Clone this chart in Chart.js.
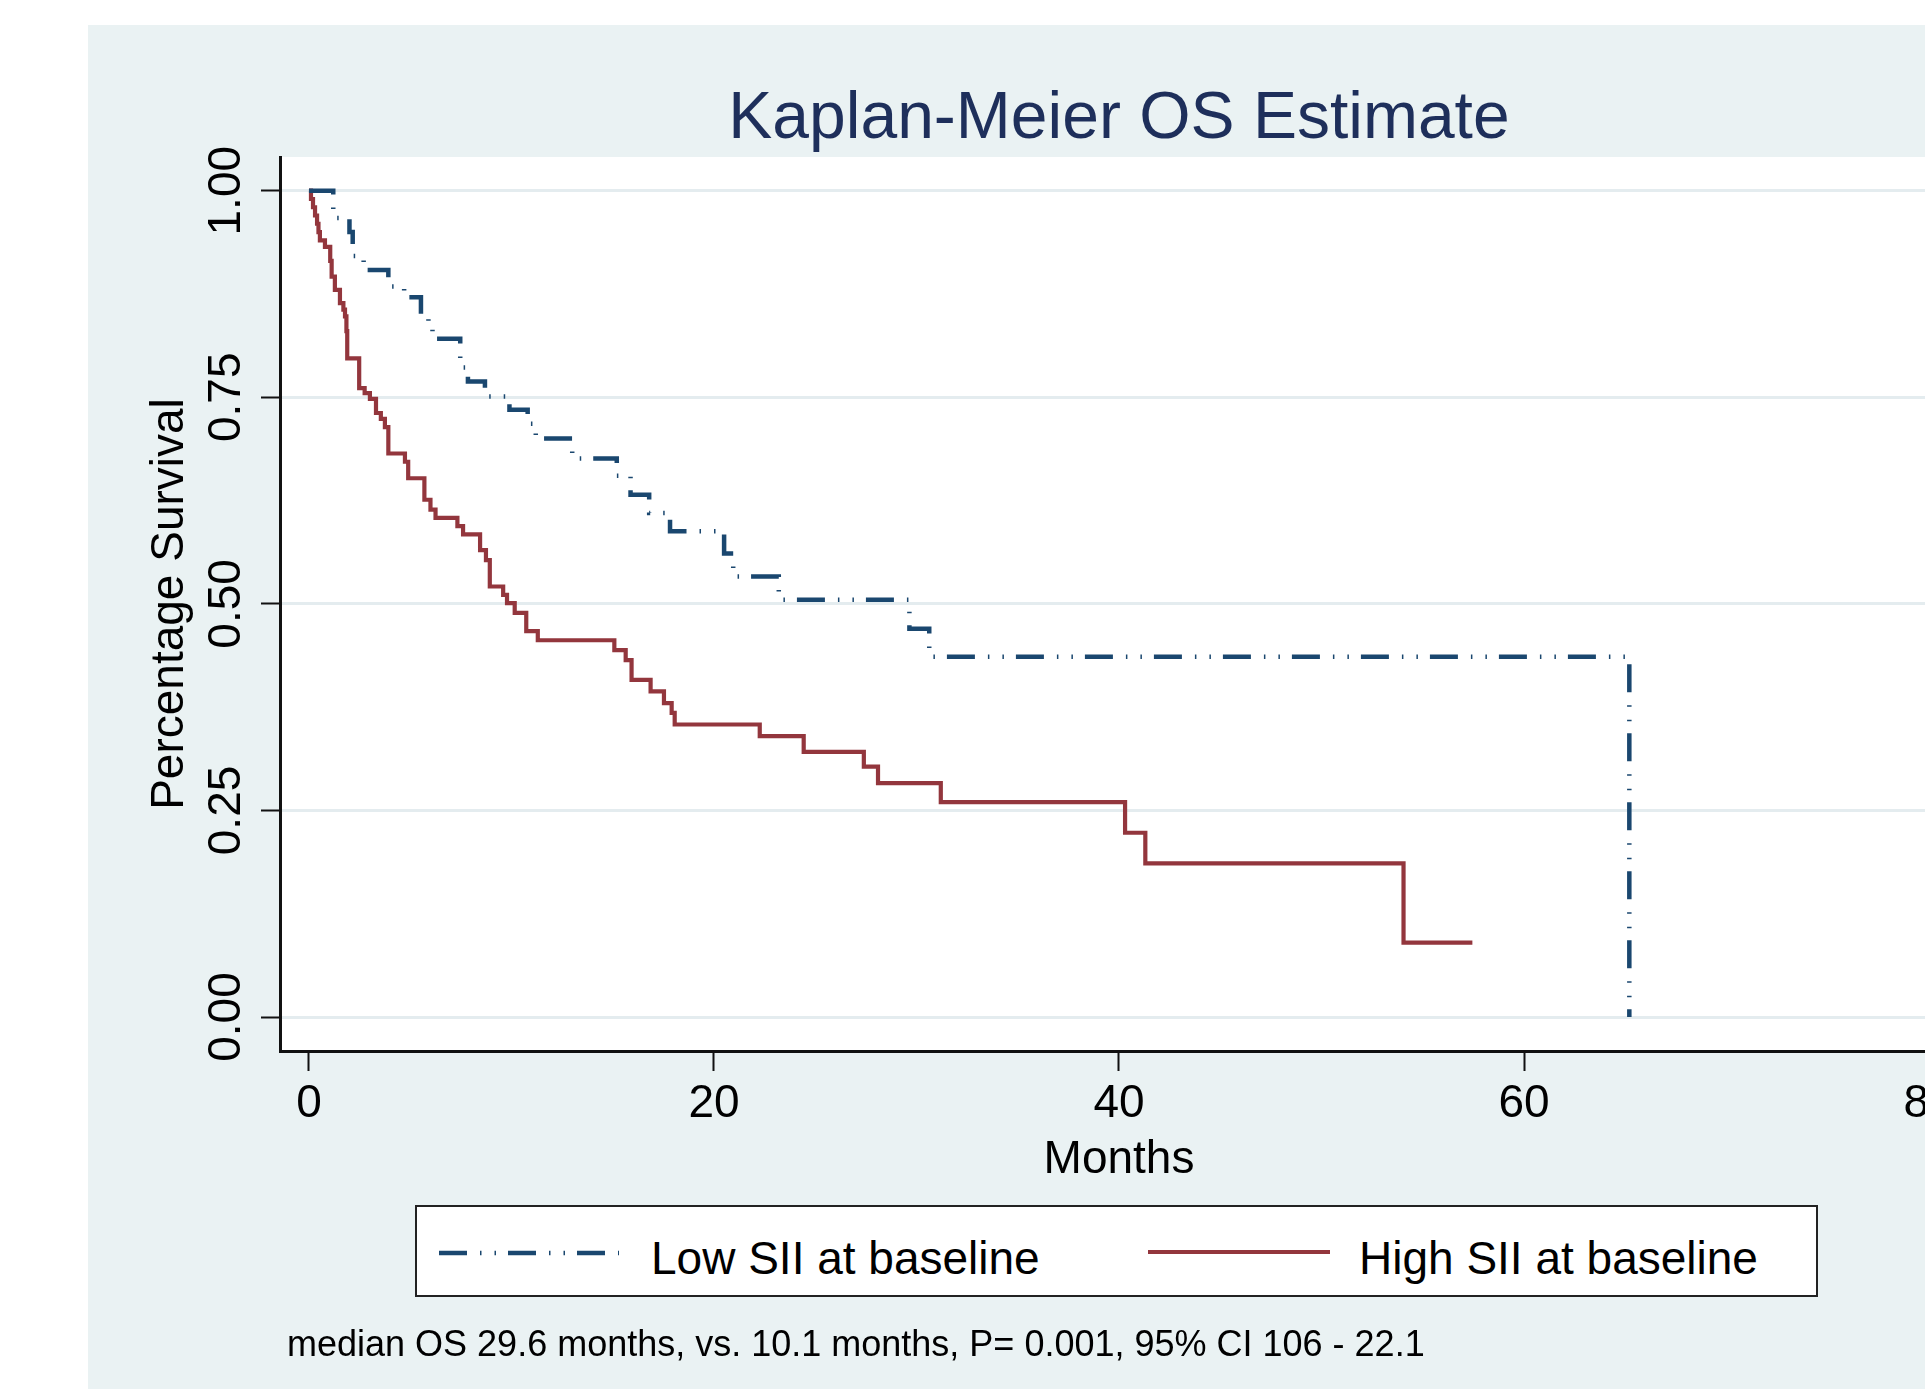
<!DOCTYPE html>
<html>
<head>
<meta charset="utf-8">
<title>Kaplan-Meier OS Estimate</title>
<script src="https://cdn.jsdelivr.net/npm/chart.js"></script>
<style>
  body {
    margin: 0;
    width: 1925px;
    height: 1389px;
    overflow: hidden;
    position: relative;
    background: #ffffff;
    font-family: "Liberation Sans", Arial, Helvetica, sans-serif;
  }
  #graphRegion { position: absolute; left: 88px; top: 25px; right: 0; bottom: 0; background: #eaf2f3; }
  #chartBox { position: absolute; left: 0; top: 0; width: 2000px; height: 1389px; }
  #title {
    position: absolute; left: 1119px; top: 82px; transform: translateX(-50%);
    font-size: 66px; line-height: 1; color: #1e2f5b; white-space: nowrap;
  }
  #legend {
    position: absolute; left: 415px; top: 1205px; width: 1403px; height: 92px;
    box-sizing: border-box; border: 2.5px solid #222; background: #ffffff;
  }
  #legend svg { position: absolute; }
  #legend .label { position: absolute; top: 28px; font-size: 46px; line-height: 1; color: #000; white-space: nowrap; }
  #note { position: absolute; left: 287px; top: 1326px; font-size: 36px; line-height: 1; color: #000; white-space: nowrap; }
</style>
</head>
<body>
<div id="graphRegion"></div>
<div id="chartBox"><canvas id="km" width="2000" height="1389"></canvas></div>
<div id="title">Kaplan-Meier OS Estimate</div>
<div id="legend">
  <svg style="left:22px; top:41px" width="180" height="10">
    <line x1="0" y1="5" x2="180" y2="5" stroke="#1a476f" stroke-width="4.5" stroke-dasharray="28 13 1.5 13 1.5 12"></line>
  </svg>
  <div class="label" style="left:234px">Low SII at baseline</div>
  <svg style="left:731px; top:40px" width="182" height="10">
    <line x1="0" y1="5" x2="182" y2="5" stroke="#93363d" stroke-width="4.2"></line>
  </svg>
  <div class="label" style="left:942px">High SII at baseline</div>
</div>
<div id="note">median OS 29.6 months, vs. 10.1 months, P= 0.001, 95% CI 106 - 22.1</div>

<script>
// Kaplan-Meier steps: time of each drop (months) and survival after it
const lowTimes = [0, 1.2, 2.0, 2.16, 2.7, 3.92, 4.7, 5.53, 5.9, 6.1, 7.47, 7.85, 8.69, 9.9, 10.8, 11.2, 13.0,
  15.2, 15.88, 16.8, 17.83, 20.5, 20.95, 23.2, 29.65, 30.63, 65.2];
const lowSurvival = [1.0, 0.967, 0.95, 0.921, 0.904, 0.884, 0.871, 0.848, 0.836, 0.821, 0.786, 0.769, 0.751, 0.735, 0.718, 0.70, 0.676,
  0.655, 0.632, 0.61, 0.588, 0.561, 0.533, 0.505, 0.47, 0.436, 0];

const highTimes = [0, 0.1, 0.2, 0.3, 0.4, 0.47, 0.54, 0.79, 1.05, 1.12, 1.28, 1.53, 1.7, 1.78, 1.85, 1.89,
  2.48, 2.75, 3.01, 3.31, 3.55, 3.75, 3.92, 4.74, 4.9, 5.7, 6.0, 6.25, 7.33, 7.61, 8.45, 8.74, 8.93,
  9.59, 9.78, 10.16, 10.73, 11.3, 15.08, 15.64, 15.93, 16.87, 17.53, 17.91, 18.06, 22.26, 24.43,
  27.4, 28.1, 31.2, 40.3, 41.3, 54.05, 57.45];
const highSurvival = [1.0, 0.99, 0.98, 0.97, 0.96, 0.95, 0.94, 0.932, 0.915, 0.896, 0.88, 0.864, 0.856, 0.848, 0.83, 0.797,
  0.761, 0.755, 0.748, 0.731, 0.724, 0.714, 0.682, 0.672, 0.652, 0.626, 0.614, 0.604, 0.594, 0.584, 0.565, 0.553, 0.521,
  0.511, 0.501, 0.489, 0.467, 0.456, 0.444, 0.432, 0.408, 0.394, 0.38, 0.368, 0.354, 0.34, 0.321,
  0.303, 0.283, 0.26, 0.223, 0.186, 0.09, 0.09];

const seriesLabels = ["Low SII at baseline", "High SII at baseline"];
const xTickValues = [0, 20, 40, 60, 80];
const yTickValues = [0, 0.25, 0.5, 0.75, 1];

function toPoints(times, surv) {
  return times.map((t, i) => ({ x: t, y: surv[i] }));
}

// white plot region behind the axes
const plotRegion = {
  id: "plotRegion",
  beforeDraw(chart) {
    const { ctx, chartArea: a } = chart;
    ctx.save();
    ctx.fillStyle = "#ffffff";
    ctx.fillRect(a.left, a.top, a.right - a.left, a.bottom - a.top);
    ctx.restore();
  },
};

Chart.defaults.font.family = "'Liberation Sans', Arial, Helvetica, sans-serif";
Chart.defaults.color = "#000";

const ctx = document.getElementById("km").getContext("2d");
new Chart(ctx, {
  type: "line",
  data: {
    datasets: [
      {
        label: seriesLabels[0],
        data: toPoints(lowTimes, lowSurvival),
        borderColor: "#1a476f",
        borderWidth: 4.5,
        borderDash: [28, 13, 1.5, 13, 1.5, 12],
        stepped: "before",
        pointRadius: 0,
        fill: false,
      },
      {
        label: seriesLabels[1],
        data: toPoints(highTimes, highSurvival),
        borderColor: "#93363d",
        borderWidth: 4.2,
        stepped: "before",
        pointRadius: 0,
        fill: false,
      },
    ],
  },
  options: {
    responsive: false,
    animation: false,
    devicePixelRatio: 1,
    layout: { padding: { left: 88, top: 157, right: 42, bottom: 188 } },
    plugins: {
      legend: { display: false },
      title: { display: false },
      tooltip: { enabled: false },
    },
    scales: {
      x: {
        type: "linear",
        min: -1.43,
        max: 81.43,
        afterBuildTicks: (s) => { s.ticks = xTickValues.map((v) => ({ value: v })); },
        afterFit: (s) => { s.height = 150; },
        grid: { drawOnChartArea: false, drawTicks: true, tickLength: 20, tickColor: "#111", tickWidth: 2 },
        border: { color: "#111", width: 3 },
        ticks: { font: { size: 46 }, color: "#000", padding: 6, minRotation: 0, maxRotation: 0, autoSkip: false },
        title: { display: true, text: "Months", font: { size: 46 }, color: "#000", padding: { top: 0, bottom: 13 } },
      },
      y: {
        type: "linear",
        min: -0.0411,
        max: 1.0408,
        afterBuildTicks: (s) => { s.ticks = yTickValues.map((v) => ({ value: v })); },
        afterFit: (s) => { s.width = 192; },
        grid: { color: "#e4ecef", lineWidth: 3, tickLength: 19, tickColor: "#111", tickWidth: 2 },
        border: { color: "#111", width: 3 },
        ticks: {
          font: { size: 46 },
          color: "#000",
          padding: -11,
          minRotation: 90,
          maxRotation: 90,
          crossAlign: "center",
          autoSkip: false,
          callback: (v) => Number(v).toFixed(2),
        },
        title: { display: true, text: "Percentage Survival", font: { size: 46 }, color: "#000", padding: { top: 55, bottom: 0 } },
      },
    },
  },
  plugins: [plotRegion],
});
</script>
</body>
</html>
